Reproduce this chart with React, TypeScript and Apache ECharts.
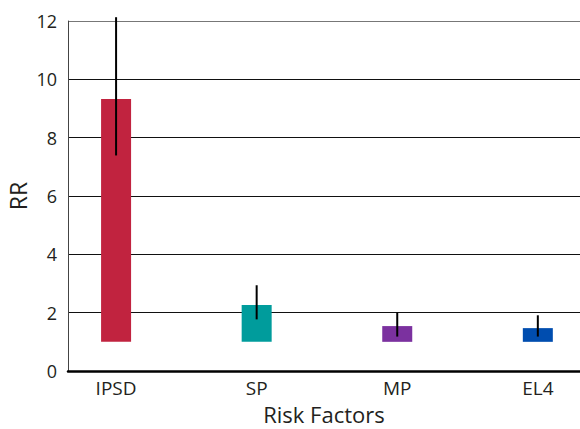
import React, { useEffect, useRef } from "react";
import * as echarts from "echarts";

const categories = ["IPSD", "SP", "MP", "EL4"];
const rrValues = [9.33, 2.26, 1.54, 1.47];
const ciLow = [7.39, 1.77, 1.18, 1.18];
const ciHigh = [12.13, 2.94, 2.01, 1.91];
const baseline = 1;
const barColors = ["#C1233F", "#009C9C", "#7B319F", "#004DAF"];
const yTicks = [0, 2, 4, 6, 8, 10, 12];

export default function App() {
  const ref = useRef<HTMLDivElement>(null);
  useEffect(() => {
    if (!ref.current) return;
    const chart = echarts.init(ref.current, undefined, { renderer: "svg" });
    const font = "Open Sans";
    const textColor = "#231F20";
    chart.setOption({
      animation: false,
      grid: { left: 68, right: 0, top: 21, bottom: 58, containLabel: false, outerBoundsMode: "none" },
      xAxis: {
        type: "value",
        min: -0.342,
        max: 3.3,
        splitLine: { show: false },
        axisLine: { show: true, onZero: false, lineStyle: { color: "#000", width: 2.5 } },
        axisTick: { show: false },
        axisLabel: {
          customValues: [0, 1, 2, 3],
          formatter: (v: number) => categories[Math.round(v)] ?? "",
          color: textColor,
          fontSize: 19,
          fontFamily: font,
          margin: 7,
        },
        name: "Risk Factors",
        nameLocation: "middle",
        nameGap: 31,
        nameMoveOverlap: false,
        nameTextStyle: { color: textColor, fontSize: 22, lineHeight: 24, fontFamily: font },
      },
      yAxis: {
        type: "value",
        min: 0,
        max: 12,
        interval: 2,
        axisLine: { show: true, onZero: false, lineStyle: { color: "#444", width: 1 } },
        axisTick: { show: false },
        splitLine: {
          show: true,
          lineStyle: { color: ["#111", "#111", "#111", "#111", "#111", "#111", "#777"], width: 1 },
        },
        axisLabel: {
          color: textColor,
          fontSize: 18,
          fontFamily: font,
          margin: 11,
          formatter: (v: number) => (yTicks.includes(v) ? String(v) : ""),
        },
        name: "RR",
        nameLocation: "middle",
        nameGap: 38,
        nameMoveOverlap: false,
        nameTextStyle: { color: textColor, fontSize: 23, lineHeight: 24, fontFamily: font },
      },
      series: [
        {
          type: "custom",
          renderItem: (params: any, api: any) => {
            const i = api.value(0);
            const v = api.value(1);
            const lo = api.value(2);
            const hi = api.value(3);
            const p0 = api.coord([i, baseline]);
            const p1 = api.coord([i, v]);
            const e0 = api.coord([i, lo]);
            const e1 = api.coord([i, hi]);
            const w = 30;
            return {
              type: "group",
              children: [
                {
                  type: "rect",
                  shape: { x: p0[0] - w / 2, y: p1[1], width: w, height: p0[1] - p1[1] },
                  style: { fill: barColors[i] },
                },
                {
                  type: "line",
                  shape: { x1: e0[0], y1: e0[1], x2: e1[0], y2: e1[1] },
                  style: { stroke: "#000", lineWidth: 2 },
                },
              ],
            };
          },
          data: categories.map((_, i) => [i, rrValues[i], ciLow[i], ciHigh[i]]),
          encode: { x: 0, y: 1 },
          clip: false,
        },
      ],
    });
    return () => chart.dispose();
  }, []);
  return <div ref={ref} style={{ width: 580, height: 429, position: "absolute", left: 0, top: 0 }} />;
}
